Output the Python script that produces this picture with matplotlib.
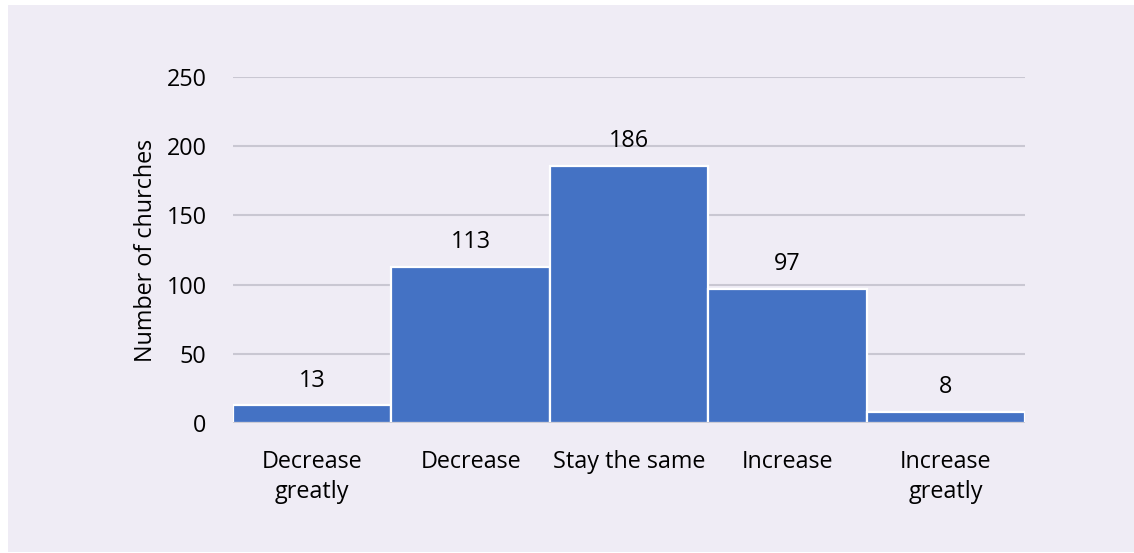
import matplotlib
matplotlib.use("Agg")
import matplotlib.pyplot as plt
from matplotlib.patches import Rectangle

categories = ["Decrease\ngreatly", "Decrease", "Stay the same", "Increase", "Increase\ngreatly"]
counts = [13, 113, 186, 97, 8]
yticks = [0, 50, 100, 150, 200, 250]
ylabel = "Number of churches"

bg = "#EFECF5"
bar_color = "#4472C4"
grid_color = "#C9C7D2"
font = ["Open Sans", "DejaVu Sans"]
fs = 16.8

plt.rcParams["font.family"] = font

fig = plt.figure(figsize=(11.34, 5.53), dpi=100)
fig.patch.set_facecolor("white")
# lavender panel behind the chart
fig.patches.append(Rectangle((8 / 1134, 0.002), 1 - 8 / 1134, 1 - 5 / 553 - 0.002,
                             transform=fig.transFigure, facecolor=bg,
                             edgecolor="none", zorder=-10))

ax = fig.add_axes([233 / 1134, (553 - 423) / 553, (1025 - 233) / 1134, (423 - 77) / 553])
ax.set_facecolor("none")

x = list(range(len(categories)))
ax.bar(x, counts, width=1.0, color=bar_color, edgecolor="white", linewidth=1.6, zorder=3)

for xi, v in zip(x, counts):
    ax.annotate(str(v), (xi, v), xytext=(0, 9), textcoords="offset points",
                ha="center", va="bottom", fontsize=fs, color="#000000")

ax.set_xlim(-0.5, len(categories) - 0.5)
ax.set_ylim(0, 250)
ax.set_yticks(yticks)
ax.set_yticklabels([str(t) for t in yticks], fontsize=fs)
ax.set_xticks(x)
ax.set_xticklabels(categories, fontsize=fs, linespacing=1.33)

for t in yticks[1:]:
    ax.axhline(t, color=grid_color, linewidth=1.5, zorder=1)
ax.axhline(0, color=grid_color, linewidth=2.0, zorder=4)

for s in ax.spines.values():
    s.set_visible(False)
ax.tick_params(axis="both", length=0)
ax.tick_params(axis="y", pad=19)
ax.tick_params(axis="x", pad=19.5)

ax.set_ylabel(ylabel, fontsize=fs, labelpad=6)

fig.savefig("out.png", dpi=100, facecolor=fig.get_facecolor())
